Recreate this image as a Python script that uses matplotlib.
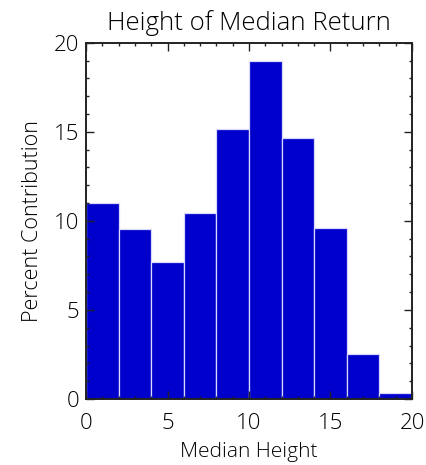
import numpy as np
import matplotlib.pyplot as plt
from matplotlib.ticker import MultipleLocator

# histogram bins (Median Height) and percent contribution per bin
bin_edges = [0, 2, 4, 6, 8, 10, 12, 14, 16, 18, 20]
percent = [11.0, 9.55, 7.7, 10.45, 15.15, 18.95, 14.65, 9.6, 2.55, 0.32]

plt.rcParams['font.family'] = ['Open Sans', 'DejaVu Sans']
plt.rcParams['font.weight'] = 300

fig = plt.figure(figsize=(4.26, 4.65), dpi=100)
ax = fig.add_axes([0.202, 0.142, 0.765, 0.766])

left = np.array(bin_edges[:-1])
width = np.diff(bin_edges)
ax.bar(left, percent, width=width, align='edge', color='#0000CC',
       edgecolor='#d8d8ff', linewidth=0.9)

ax.set_xlim(0, 20)
ax.set_ylim(0, 20)
ax.xaxis.set_major_locator(MultipleLocator(5))
ax.xaxis.set_minor_locator(MultipleLocator(1))
ax.yaxis.set_major_locator(MultipleLocator(5))
ax.yaxis.set_minor_locator(MultipleLocator(1))

ax.tick_params(which='both', direction='in', top=True, right=True,
               width=1.0, color='#222222')
ax.tick_params(which='major', length=5.5, labelsize=16, pad=5)
ax.tick_params(axis='x', which='major', pad=10)
ax.tick_params(which='minor', length=2.5)
for s in ax.spines.values():
    s.set_linewidth(1.4)
    s.set_color('#222222')

ax.set_title("Height of Median Return", fontsize=18.5, fontweight=300, pad=9)
ax.set_xlabel("Median Height", fontsize=15, fontweight=300, labelpad=6)
ax.set_ylabel("Percent Contribution", fontsize=15.5, fontweight=300, labelpad=8)

fig.savefig("out.png", dpi=100)
